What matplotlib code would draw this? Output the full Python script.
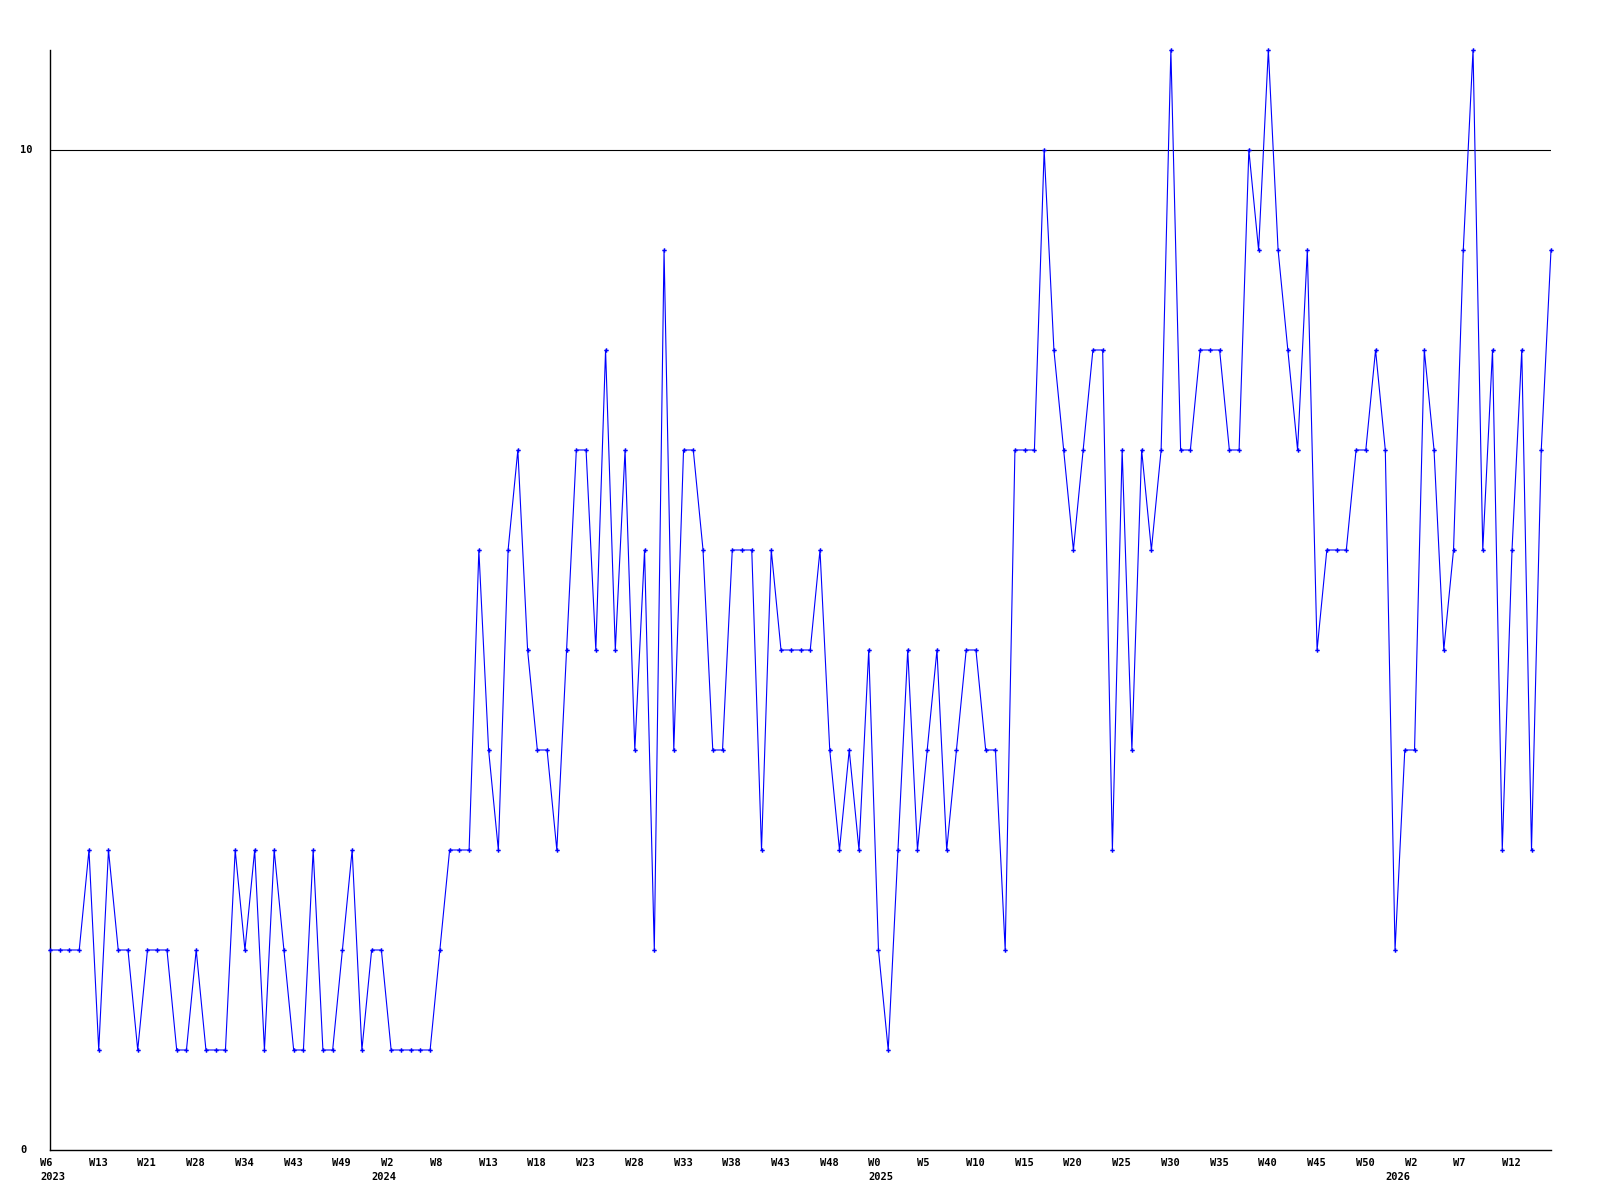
import matplotlib
matplotlib.use('Agg')
import matplotlib.pyplot as plt

# weekly counts, one per point
values = [2, 2, 2, 2, 3, 1, 3, 2, 2, 1, 2, 2, 2, 1, 1, 2, 1, 1, 1, 3,
          2, 3, 1, 3, 2, 1, 1, 3, 1, 1, 2, 3, 1, 2, 2, 1, 1, 1, 1, 1,
          2, 3, 3, 3, 6, 4, 3, 6, 7, 5, 4, 4, 3, 5, 7, 7, 5, 8, 5, 7,
          4, 6, 2, 9, 4, 7, 7, 6, 4, 4, 6, 6, 6, 3, 6, 5, 5, 5, 5, 6,
          4, 3, 4, 3, 5, 2, 1, 3, 5, 3, 4, 5, 3, 4, 5, 5, 4, 4, 2, 7,
          7, 7, 10, 8, 7, 6, 7, 8, 8, 3, 7, 4, 7, 6, 7, 11, 7, 7, 8, 8,
          8, 7, 7, 10, 9, 11, 9, 8, 7, 9, 5, 6, 6, 6, 7, 7, 8, 7, 2, 4,
          4, 8, 7, 5, 6, 9, 11, 6, 8, 3, 6, 8, 3, 7, 9]

week_labels = ["W6", "W13", "W21", "W28", "W34", "W43", "W49", "W2", "W8", "W13",
               "W18", "W23", "W28", "W33", "W38", "W43", "W48", "W0", "W5", "W10",
               "W15", "W20", "W25", "W30", "W35", "W40", "W45", "W50", "W2", "W7", "W12"]
week_pos = list(range(0, 155, 5))
year_labels = ["2023", "2024", "2025", "2026"]
year_pos = [0, 34, 85, 138]
y_labels = ["0", "10"]
y_pos = [0, 10]

fig = plt.figure(figsize=(16, 12), dpi=100)
ax = fig.add_axes([50 / 1600, 50 / 1200, 1501 / 1600, 1100 / 1200])

x = list(range(len(values)))
ax.plot(x, values, color=(0, 0, 1), lw=0.8, marker='P', markersize=3.2,
        markeredgewidth=0, clip_on=False, zorder=3)
ax.axhline(10, color='black', lw=0.8, zorder=1)

ax.set_xlim(0, len(values) - 1)
ax.set_ylim(0, 11)
ax.set_xticks([])
ax.set_yticks([])
for s in ['top', 'right']:
    ax.spines[s].set_visible(False)
for s in ['left', 'bottom']:
    ax.spines[s].set_linewidth(1.0)

font = dict(family='DejaVu Sans Mono', fontweight='bold', fontsize=7.5)

for lab, p in zip(week_labels, week_pos):
    ax.annotate(lab, xy=(p, 0), xycoords=('data', 'axes fraction'),
                xytext=(-7.2, -5.5), textcoords='offset points',
                ha='left', va='top', **font)
for lab, p in zip(year_labels, year_pos):
    ax.annotate(lab, xy=(p, 0), xycoords=('data', 'axes fraction'),
                xytext=(-7.2, -15.5), textcoords='offset points',
                ha='left', va='top', **font)
for lab, p in zip(y_labels, y_pos):
    ax.annotate(lab, xy=(0, p), xycoords=('axes fraction', 'data'),
                xytext=(-21.6, 0), textcoords='offset points',
                ha='left', va='center', **font)

fig.savefig("out.png", dpi=100)
